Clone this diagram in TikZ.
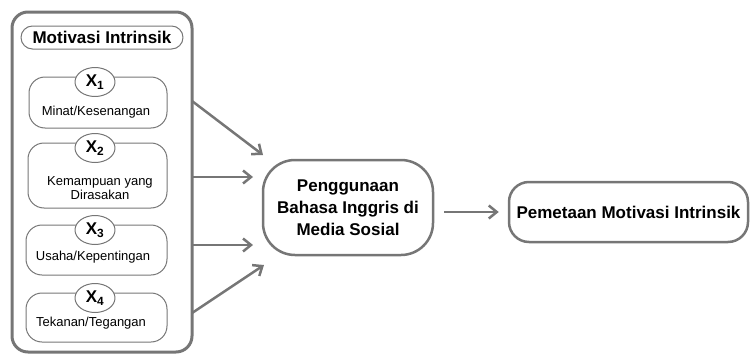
\documentclass[tikz,border=0pt]{standalone}
\usepackage{fontspec}
\setmainfont{Liberation Sans}
\usetikzlibrary{arrows.meta,shapes.geometric}
\definecolor{abu}{HTML}{767676}
\begin{document}
\begin{tikzpicture}[x=1pt,y=-1pt,line join=round,>={Straight Barb[length=8pt,width=13pt]},
	besar/.style={font=\fontsize{17}{22}\selectfont\bfseries},
	kecil/.style={font=\fontsize{13}{14}\selectfont},
	kotak/.style={draw=abu,line width=1pt,rounded corners=16pt},
	bulat/.style={ellipse,draw=abu,line width=1pt,fill=white,minimum width=40pt,minimum height=29pt,inner sep=0pt,besar},
	tebal/.style={draw=abu,line width=2.5pt},
	panah/.style={->,draw=abu,line width=2.5pt}]
	\useasboundingbox (0,0) rectangle (750,356);
	% wadah motivasi intrinsik
	\node[draw=abu,line width=3pt,rounded corners=16pt,minimum width=180pt,minimum height=340pt] (wadah) at (102,182) {};
	\node[kotak,rounded corners=11.5pt,minimum width=162pt,minimum height=23pt,inner sep=0pt,besar] (mi) at (102,37.5) {Motivasi Intrinsik};
	\path 
	(98,102.5) node[kotak,minimum width=138pt,minimum height=51pt] (k1) {}
	(97.5,175.5) node[kotak,minimum width=139pt,minimum height=65pt] (k2) {}
	(96.5,250) node[kotak,minimum width=141pt,minimum height=50pt] (k3) {}
	(96.5,317.5) node[kotak,minimum width=141pt,minimum height=49pt] (k4) {};
	\path 
	(95,82) node[bulat] (x1) {X\textsubscript{1}}
	(95,148) node[bulat] (x2) {X\textsubscript{2}}
	(95,230) node[bulat] (x3) {X\textsubscript{3}}
	(95,298) node[bulat] (x4) {X\textsubscript{4}};
	\path 
	(96,112) node[kecil] (t1) {Minat/Kesenangan}
	(100,188.5) node[kecil,align=center] (t2) {Kemampuan yang\\Dirasakan}
	(93,257) node[kecil] (t3) {Usaha/Kepentingan}
	(91,323) node[kecil] (t4) {Tekanan/Tegangan};
	\path 
	(348,207.5) node[tebal,rounded corners=32pt,minimum width=170pt,minimum height=95pt,align=center,besar] (pusat) {Penggunaan\\Bahasa Inggris di\\Media Sosial}
	(628.5,212) node[tebal,rounded corners=20pt,minimum width=239pt,minimum height=60pt,besar] (hasil) {Pemetaan Motivasi Intrinsik};
	\coordinate (s1) at (192,101);
	\coordinate (s2) at (192,177);
	\coordinate (s3) at (192,245);
	\coordinate (s4) at (192,313);
	\coordinate (u1) at (263,155);
	\coordinate (u2) at (253,177);
	\coordinate (u3) at (253,245);
	\coordinate (u4) at (264,265);
	\draw[panah] (s1)--(u1);
	\draw[panah] (s2)--(u2);
	\draw[panah] (s3)--(u3);
	\draw[panah] (s4)--(u4);
	\draw[panah] ([xshift=10pt]pusat.east |- hasil.west)--([xshift=-9pt]hasil.west);
\end{tikzpicture}
\end{document}
